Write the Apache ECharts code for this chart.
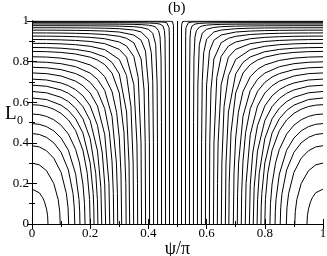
<!DOCTYPE html>
<html>
<head>
<meta charset="utf-8">
<script src="https://cdn.jsdelivr.net/npm/echarts@6/dist/echarts.min.js"></script>
<style>
html,body{margin:0;padding:0;background:#fff;}
#chart{width:327px;height:256px;}
</style>
</head>
<body>
<div id="chart"></div>
<script>
// Tick labels
const xTicks = [0, 0.2, 0.4, 0.6, 0.8, 1];
const yTicks = [0, 0.2, 0.4, 0.6, 0.8, 1];

// Left-half contour curves, each a list of [psi/pi, L0] points
const curve01 = [[0,0.1719],[0.025,0.1539],[0.0365,0.13],[0.0427,0.11],[0.05,0.0731],[0.0536,0.04],[0.055,0]];
const curve02 = [[0,0.3000],[0.025,0.2913],[0.05,0.2622],[0.075,0.1992],[0.09,0.12],[0.0953,0.06],[0.097,0]];
const curve03 = [[0,0.3856],[0.025,0.3797],[0.05,0.3607],[0.075,0.3236],[0.1,0.2542],[0.1182,0.15],[0.1239,0.08],[0.126,0]];
const curve04 = [[0,0.4456],[0.025,0.4411],[0.05,0.4267],[0.075,0.3997],[0.1,0.3528],[0.125,0.2660],[0.1409,0.15],[0.1453,0.08],[0.147,0]];
const curve05 = [[0,0.4947],[0.025,0.4910],[0.05,0.4797],[0.075,0.4586],[0.1,0.4233],[0.125,0.3636],[0.15,0.2458],[0.1616,0.12],[0.1639,0.06],[0.1647,0]];
const curve06 = [[0,0.5419],[0.025,0.5390],[0.05,0.5300],[0.075,0.5135],[0.1,0.4866],[0.125,0.4430],[0.15,0.3675],[0.1632,0.3],[0.175,0.1967],[0.1805,0.1],[0.1823,0]];
const curve07 = [[0,0.5878],[0.025,0.5855],[0.05,0.5784],[0.075,0.5655],[0.1,0.5449],[0.125,0.5125],[0.15,0.4599],[0.175,0.3636],[0.1899,0.25],[0.1979,0.12],[0.2,0]];
const curve08 = [[0,0.6208],[0.05,0.613],[0.1,0.5855],[0.125,0.5594],[0.15,0.5184],[0.175,0.4484],[0.2,0.3005],[0.2103,0.15],[0.2124,0.08],[0.2132,0]];
const curve09 = [[0,0.6528],[0.05,0.6463],[0.1,0.6238],[0.125,0.6029],[0.15,0.5707],[0.175,0.5182],[0.2,0.4204],[0.219,0.25],[0.2248,0.12],[0.2264,0]];
const curve10 = [[0,0.6839],[0.05,0.6786],[0.1,0.6603],[0.125,0.6436],[0.15,0.6183],[0.175,0.5785],[0.2,0.5095],[0.225,0.3602],[0.2366,0.18],[0.2397,0]];
const curve11 = [[0,0.7138],[0.05,0.7094],[0.1,0.6947],[0.125,0.6814],[0.15,0.6617],[0.175,0.6314],[0.2,0.5814],[0.225,0.4858],[0.2415,0.35],[0.25,0.1924],[0.253,0]];
const curve12 = [[0,0.7441],[0.05,0.7407],[0.1,0.7291],[0.15,0.7036],[0.175,0.681],[0.2,0.645],[0.225,0.5815],[0.25,0.4401],[0.2644,0.2],[0.2671,0]];
const curve13 = [[0,0.7721],[0.05,0.7694],[0.1,0.7604],[0.15,0.7409],[0.175,0.7239],[0.2,0.6977],[0.225,0.6538],[0.25,0.568],[0.2659,0.45],[0.275,0.3087],[0.2796,0.15],[0.2808,0]];
const curve14 = [[0,0.7987],[0.05,0.7967],[0.1,0.7897],[0.15,0.7749],[0.2,0.7433],[0.225,0.7128],[0.25,0.6577],[0.275,0.5304],[0.2901,0.3],[0.2935,0.15],[0.2945,0]];
const curve15 = [[0,0.8239],[0.05,0.8223],[0.1,0.817],[0.15,0.806],[0.2,0.7831],[0.225,0.7619],[0.25,0.7258],[0.275,0.6527],[0.2908,0.55],[0.3,0.4237],[0.3058,0.25],[0.3082,0]];
const curve16 = [[0,0.8502],[0.05,0.8490],[0.1,0.8452],[0.15,0.8374],[0.2,0.8218],[0.225,0.8078],[0.25,0.7852],[0.275,0.7435],[0.3,0.6451],[0.3161,0.45],[0.3224,0.2],[0.3235,0]];
const curve17 = [[0,0.8696],[0.05,0.8687],[0.1,0.8659],[0.15,0.86],[0.2,0.8486],[0.25,0.8231],[0.275,0.796],[0.3,0.7394],[0.325,0.5518],[0.3334,0.3],[0.3356,0]];
const curve18 = [[0,0.89],[0.05,0.8894],[0.1,0.8874],[0.15,0.8833],[0.2,0.8755],[0.25,0.8588],[0.3,0.8106],[0.325,0.731],[0.34,0.578],[0.3476,0.3],[0.3493,0]];
const curve19 = [[0,0.9088],[0.05,0.9084],[0.1,0.907],[0.15,0.9043],[0.2,0.8991],[0.25,0.8884],[0.3,0.8604],[0.325,0.8219],[0.35,0.6868],[0.3605,0.4],[0.3625,0.2],[0.363,0]];
const curve20 = [[0,0.9257],[0.05,0.9254],[0.1,0.9245],[0.15,0.9227],[0.2,0.9193],[0.25,0.9127],[0.3,0.8964],[0.325,0.8768],[0.35,0.8252],[0.365,0.7208],[0.3747,0.4],[0.3765,0]];
const curve21 = [[0,0.9413],[0.05,0.9411],[0.1,0.9406],[0.15,0.9395],[0.2,0.9374],[0.25,0.9335],[0.3,0.9245],[0.325,0.9146],[0.35,0.8927],[0.375,0.8129],[0.385,0.6603],[0.3891,0.4],[0.3904,0]];
const curve22 = [[0,0.955],[0.05,0.9549],[0.1,0.9545],[0.15,0.9539],[0.2,0.9527],[0.25,0.9505],[0.3,0.9457],[0.35,0.931],[0.375,0.9051],[0.39,0.8518],[0.4,0.6851],[0.4033,0.4],[0.4041,0]];
const curve23 = [[0,0.9668],[0.1,0.9666],[0.2,0.9656],[0.25,0.9645],[0.3,0.9621],[0.35,0.9555],[0.375,0.9459],[0.4,0.9107],[0.41,0.8442],[0.415,0.702],[0.4173,0.4],[0.4178,0]];
const curve24 = [[0,0.9769],[0.1,0.9768],[0.2,0.9764],[0.3,0.9747],[0.35,0.972],[0.375,0.9685],[0.4,0.959],[0.415,0.9398],[0.425,0.8841],[0.43,0.6896],[0.4312,0.4],[0.4315,0]];
const curve25 = [[0,0.9852],[0.2,0.985],[0.3,0.9843],[0.35,0.9833],[0.375,0.9821],[0.4,0.9795],[0.415,0.9756],[0.425,0.9697],[0.435,0.9524],[0.44,0.9211],[0.4435,0.8165],[0.4449,0.5],[0.4452,0]];
const curve26 = [[0,0.9917],[0.3,0.9914],[0.35,0.9911],[0.4,0.9901],[0.425,0.9883],[0.44,0.9847],[0.45,0.9753],[0.455,0.9532],[0.457,0.9156],[0.4586,0.7],[0.4589,0]];
const curve27 = [[0,0.9963],[0.35,0.9962],[0.4,0.996],[0.425,0.9958],[0.45,0.9948],[0.4625,0.9921],[0.468,0.9864],[0.471,0.9672],[0.472,0.9226],[0.4726,0]];
const curve28 = [[0,0.9991],[0.4,0.9991],[0.45,0.999],[0.475,0.9987],[0.4825,0.9976],[0.485,0.9945],[0.486,0.9788],[0.4862,0.9413],[0.4863,0]];
const centerLine = [[0.5,0],[0.5,1]];

const leftCurves = [curve01,curve02,curve03,curve04,curve05,curve06,curve07,curve08,curve09,curve10,
  curve11,curve12,curve13,curve14,curve15,curve16,curve17,curve18,curve19,curve20,
  curve21,curve22,curve23,curve24,curve25,curve26,curve27,curve28];

const FONT = '"Liberation Serif","DejaVu Serif",serif';
const lineStyle = {color:'#000', width:1};

const series = [];
leftCurves.forEach(c => {
  series.push({type:'line', data:c, showSymbol:false, symbol:'none', lineStyle, silent:true, animation:false});
  // mirror image on the right half (the picture is symmetric about psi/pi = 0.5)
  series.push({type:'line', data:c.map(p => [1 - p[0], p[1]]), showSymbol:false, symbol:'none', lineStyle, silent:true, animation:false});
});
series.push({type:'line', data:centerLine, showSymbol:false, symbol:'none', lineStyle, silent:true, animation:false});

// major ticks (0.2) inside, drawn with the frame
const major = pos => ({type:'value', position:pos, min:0, max:1, interval:0.2,
  axisLine:{show:true, lineStyle:{color:'#000', width:1}},
  axisTick:{show:true, inside:true, length:5, lineStyle:{color:'#000'}},
  minorTick:{show:false}, splitLine:{show:false}, axisLabel:{show:false}});
// minor ticks (0.1) as separate tick-only axes
const minor = (pos, inside, len) => ({type:'value', position:pos, min:0, max:1, interval:0.1,
  axisLine:{show:false}, axisLabel:{show:false}, splitLine:{show:false}, minorTick:{show:false},
  axisTick:{show:true, inside:inside, length:len, lineStyle:{color:'#000'}}});
const fmt = v => { const r = Math.round(v*10)/10; return String(r); };

const xBottom = major('bottom');
Object.assign(xBottom, {name:'ψ/π', nameLocation:'middle', nameGap:16, nameMoveOverlap:false,
  nameTextStyle:{fontFamily:FONT, fontSize:18, color:'#000'},
  axisLabel:{show:true, fontFamily:FONT, fontSize:13, color:'#000', margin:3, formatter:fmt, customValues:xTicks}});
const yLeft = major('left');
Object.assign(yLeft, {axisLabel:{show:true, fontFamily:FONT, fontSize:13, color:'#000', margin:3, formatter:fmt, customValues:yTicks}});

const chart = echarts.init(document.getElementById('chart'), null, {renderer:'canvas'});
chart.setOption({
  animation:false,
  backgroundColor:'#fff',
  title:{text:'(b)', left:168, top:1, padding:0, textStyle:{fontFamily:FONT, fontSize:15, fontWeight:'normal', color:'#000'}},
  grid:{left:32, right:4, top:21, bottom:32, containLabel:false, outerBoundsMode:'none'},
  graphic:[
    {type:'text', x:5, y:114, style:{text:'L', font:'19px "Liberation Serif"', fill:'#000', verticalAlign:'middle', align:'left'}},
    {type:'text', x:17, y:121, style:{text:'0', font:'12px "Liberation Serif"', fill:'#000', verticalAlign:'middle', align:'left'}}
  ],
  xAxis:[xBottom, major('top'), minor('bottom', true, 3), minor('top', true, 3)],
  yAxis:[yLeft, major('right'), minor('left', true, 3), minor('right', true, 3), minor('left', false, 3)],
  series: series.map(s => Object.assign(s, {xAxisIndex:0, yAxisIndex:0}))
});
</script>
</body>
</html>
